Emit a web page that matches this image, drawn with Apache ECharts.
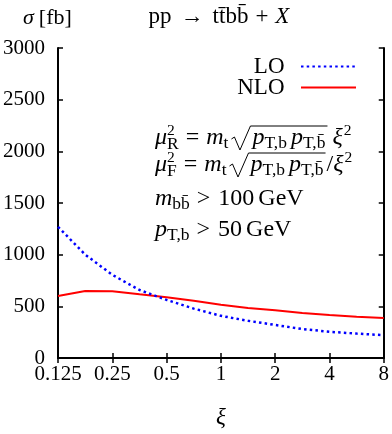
<!DOCTYPE html>
<html><head><meta charset="utf-8">
<script src="https://cdn.jsdelivr.net/npm/echarts@6/dist/echarts.min.js"></script>
<style>html,body{margin:0;padding:0;background:#fff}#c{width:392px;height:434px}</style>
</head><body><div id="c"></div>
<script>
// ---- data ----
const xiValues = [0.125, 0.177, 0.25, 0.354, 0.5, 0.707, 1, 1.414, 2, 2.828, 4, 5.657, 8];
const loValues = [1270, 1000, 805, 658, 562, 478, 408, 360, 320, 280, 254, 236, 221];
const nloValues = [600, 648, 645, 616, 588, 553, 515, 483, 462, 436, 415, 400, 388];
const xTickLabels = ['0.125', '0.25', '0.5', '1', '2', '4', '8'];
const yTickLabels = ['0', '500', '1000', '1500', '2000', '2500', '3000'];
const seriesNames = ['LO', 'NLO'];

const FAM = '"Liberation Serif", "Times New Roman", serif';
const AX = 21;            // axis tick label size
let MAIN = 24, SUB = 17.5, SUP = 15.5;
const mctx = document.createElement('canvas').getContext('2d');
function fnt(size, it) { return (it ? 'italic ' : '') + size + 'px ' + FAM; }
function tw(text, size, it) { mctx.font = fnt(size, it); return mctx.measureText(text).width; }
const MID = 0.30;
function put(els, x, base, text, size, it) {
  els.push({ type: 'text', x: x, y: base - MID * size, silent: true,
    style: { text: text, font: fnt(size, it), fill: '#000', verticalAlign: 'middle', align: 'left' } });
}
function lay(els, x, base, toks) {
  for (const k of toks) {
    if (k.at !== undefined) x = k.at;
    if (k.gap) x += k.gap;
    if (k.t !== undefined) {
      const size = k.s === 'sub' ? SUB : (k.s === 'sup' ? SUP : MAIN);
      const y = k.s === 'sub' ? base + 4 : (k.s === 'sup' ? base - 9 : base);
      put(els, x, y, k.t, size, k.i);
      x += tw(k.t, size, k.i);
    }
    if (k.ss) {
      put(els, x, base - 9, k.ss[0], SUP, false);
      put(els, x, base + 5, k.ss[1], SUB, false);
      x += Math.max(tw(k.ss[0], SUP), tw(k.ss[1], SUB));
    }
    if (k.rad) {
      const x0 = x; const rw = k.w || 14; x += rw;
      x = lay(els, x, base, k.rad);
      els.push({ type: 'polyline', silent: true,
        shape: { points: [[x0 + 1, base - 6], [x0 + 4, base - 8], [x0 + 9.5, base + 5], [x0 + rw - 1, base - 19], [x, base - 19]] },
        style: { stroke: '#000', lineWidth: 1, fill: null } });
    }
  }
  return x;
}

const els = [];
const radBody = [{ gap: 1 }, { t: 'p', i: 1 }, { t: 'T,b', s: 'sub' }, { gap: 4 }, { t: 'p', i: 1 }, { t: 'T,b\u0304', s: 'sub' }, { gap: 2 }];
lay(els, 155, 145, [{ t: 'μ', i: 1 }, { ss: ['2', 'R'] }, { gap: 7 }, { t: '=' }, { gap: 7 }, { t: 'm', i: 1 }, { t: 't', s: 'sub' }, { gap: 2 },
  { rad: radBody, w: 21 }, { gap: 5 }, { t: 'ξ', i: 1 }, { gap: 1 }, { t: '2', s: 'sup' }]);
lay(els, 155, 172, [{ t: 'μ', i: 1 }, { ss: ['2', 'F'] }, { gap: 7 }, { t: '=' }, { gap: 7 }, { t: 'm', i: 1 }, { t: 't', s: 'sub' }, { gap: 2 },
  { rad: radBody, w: 21 }, { gap: 1 }, { t: '/' }, { t: 'ξ', i: 1 }, { gap: 1 }, { t: '2', s: 'sup' }]);
lay(els, 155, 206, [{ t: 'm', i: 1 }, { t: 'bb\u0304', s: 'sub' }, { gap: 7 }, { t: '>' }, { gap: 8 }, { t: '100' }, { gap: 4 }, { t: 'GeV' }]);
lay(els, 155, 237, [{ t: 'p', i: 1 }, { t: 'T,b', s: 'sub' }, { gap: 7 }, { t: '>' }, { gap: 8 }, { t: '50' }, { gap: 4 }, { t: 'GeV' }]);
// y-axis title
MAIN = 22;
lay(els, 23, 25, [{ t: 'σ', i: 1 }, { gap: 5 }, { t: '[fb]' }]);
// chart title, centred over the plot
MAIN = 23;
const titleToks = [{ t: 'pp' }, { gap: 9 }, { t: '→' }, { gap: 9 }, { t: 'tt\u0304bb\u0304' }, { gap: 7 }, { t: '+' }, { gap: 7 }, { t: 'X', i: 1 }];
const tEnd = lay([], 0, 0, titleToks);
lay(els, 219 - tEnd / 2, 24, titleToks);

const axisText = { fontFamily: FAM, fontSize: AX, color: '#000' };
const lineBlack = { lineStyle: { color: '#000', width: 2 } };
const tickIn = { show: true, inside: true, length: 5, lineStyle: { color: '#000', width: 1.5 } };

const chart = echarts.init(document.getElementById('c'), null, { renderer: 'canvas' });
chart.setOption({
  animation: false,
  backgroundColor: '#fff',
  grid: { left: 56, right: 8, top: 48, bottom: 66 },
  legend: {
    data: seriesNames, orient: 'vertical', align: 'right', right: 35, top: 55, padding: 0,
    itemWidth: 55, itemHeight: 14, itemGap: -2,
    itemStyle: { opacity: 0 },
    formatter: n => n + '  ',
    textStyle: { fontFamily: FAM, fontSize: 23, color: '#000', lineHeight: 20 }
  },
  xAxis: [{
    type: 'log', logBase: 2, min: 0.125, max: 8, splitNumber: 6,
    axisLine: lineBlack, splitLine: { show: false }, minorTick: { show: false },
    axisTick: tickIn,
    axisLabel: { ...axisText, margin: 6, showMinLabel: true, showMaxLabel: true,
      formatter: v => xTickLabels[Math.round(Math.log2(v)) + 3] },
    name: 'ξ', nameLocation: 'middle', nameGap: 48,
    nameTextStyle: { fontFamily: FAM, fontSize: 23, fontStyle: 'italic', color: '#000' }
  }, {
    type: 'log', logBase: 2, min: 0.125, max: 8, splitNumber: 6, position: 'top',
    axisLine: lineBlack, splitLine: { show: false },
    axisTick: tickIn, axisLabel: { show: false }
  }],
  yAxis: [{
    type: 'value', min: 0, max: 3000, interval: 500,
    axisLine: { show: true, ...lineBlack }, splitLine: { show: false },
    axisTick: tickIn,
    axisLabel: { ...axisText, margin: 13, formatter: (v, i) => yTickLabels[i] }
  }, {
    type: 'value', min: 0, max: 3000, interval: 500, position: 'right',
    axisLine: { show: true, ...lineBlack }, splitLine: { show: false },
    axisTick: tickIn, axisLabel: { show: false }
  }],
  series: [{
    name: seriesNames[0], type: 'line', xAxisIndex: 0, yAxisIndex: 0, symbol: 'none',
    data: xiValues.map((x, i) => [x, loValues[i]]),
    lineStyle: { color: '#0000ff', width: 2.5, type: [2.5, 3.2], cap: 'butt' },
    itemStyle: { color: '#0000ff' }, z: 3
  }, {
    name: seriesNames[1], type: 'line', xAxisIndex: 0, yAxisIndex: 0, symbol: 'none',
    data: xiValues.map((x, i) => [x, nloValues[i]]),
    lineStyle: { color: '#ff0000', width: 2 },
    itemStyle: { color: '#ff0000' }, z: 2
  }],
  graphic: els
});
</script></body></html>
